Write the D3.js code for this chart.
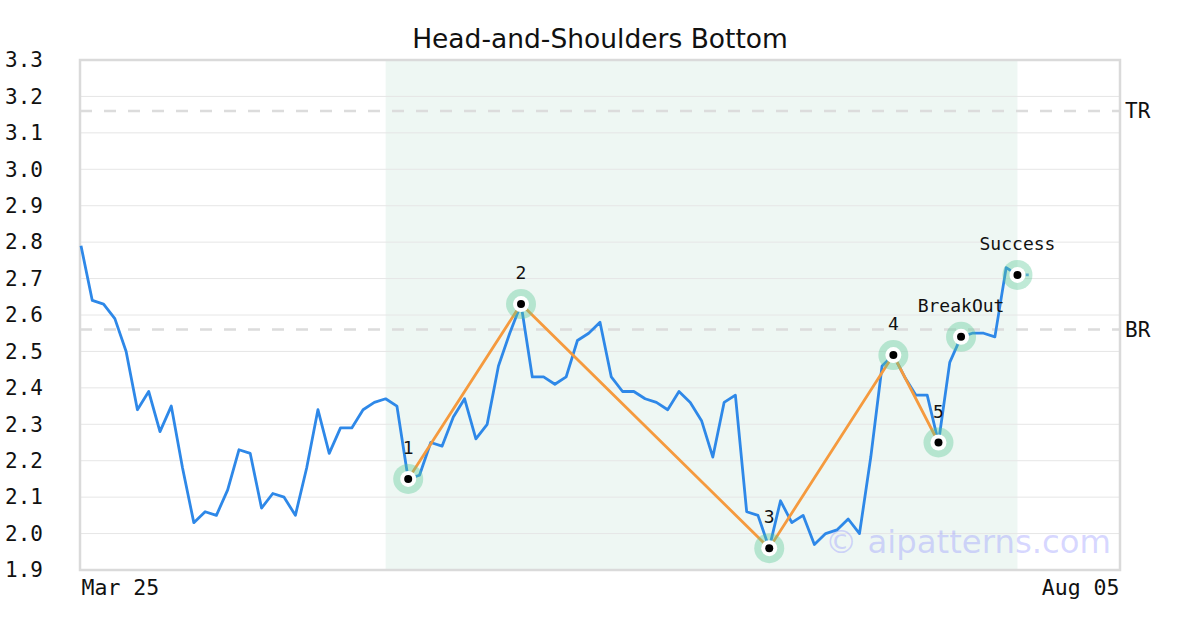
<!DOCTYPE html>
<html>
<head>
<meta charset="utf-8">
<script src="https://cdn.jsdelivr.net/npm/d3@7"></script>
<style>
  html, body { margin: 0; padding: 0; background: #fff; }
  svg { display: block; }
</style>
</head>
<body>
<svg id="chart" width="1200" height="630"></svg>
<script>
// ---- data ----
const title = "Head-and-Shoulders Bottom";
const prices = [
  2.79, 2.64, 2.63, 2.59, 2.50, 2.34, 2.39, 2.28, 2.35, 2.18,
  2.03, 2.06, 2.05, 2.12, 2.23, 2.22, 2.07, 2.11, 2.10, 2.05,
  2.18, 2.34, 2.22, 2.29, 2.29, 2.34, 2.36, 2.37, 2.35, 2.15,
  2.16, 2.25, 2.24, 2.32, 2.37, 2.26, 2.30, 2.46, 2.55, 2.63,
  2.43, 2.43, 2.41, 2.43, 2.53, 2.55, 2.58, 2.43, 2.39, 2.39,
  2.37, 2.36, 2.34, 2.39, 2.36, 2.31, 2.21, 2.36, 2.38, 2.06,
  2.05, 1.96, 2.09, 2.03, 2.05, 1.97, 2.00, 2.01, 2.04, 2.00,
  2.21, 2.46, 2.49, 2.43, 2.38, 2.38, 2.25, 2.47, 2.54, 2.55,
  2.55, 2.54, 2.73, 2.71, 2.71
];
const xDomainEnd = 92;
const xTickLabels = ["Mar 25", "Aug 05"];
const yTicks = [1.9, 2.0, 2.1, 2.2, 2.3, 2.4, 2.5, 2.6, 2.7, 2.8, 2.9, 3.0, 3.1, 3.2, 3.3];
const patternIdx = [29, 39, 61, 72, 76];
const patternLabels = ["1", "2", "3", "4", "5"];
const eventIdx = [78, 83];
const eventLabels = ["BreakOut", "Success"];
const shadeRange = [27, 83];
const levelNames = ["TR", "BR"];
const levelValues = [3.16, 2.56];
const watermark = "© aipatterns.com";

// ---- layout ----
const svg = d3.select("#chart");
const L = 80, R = 1120, T = 60, B = 570;
const mono = "'DejaVu Sans Mono', monospace";
const sans = "'DejaVu Sans', sans-serif";

const x = d3.scaleLinear().domain([0, xDomainEnd]).range([L + 1, R - 1]);
const y = d3.scaleLinear().domain([1.9, 3.3]).range([B, T]);

// background shade
svg.append("rect")
  .attr("x", x(shadeRange[0])).attr("y", T)
  .attr("width", x(shadeRange[1]) - x(shadeRange[0])).attr("height", B - T)
  .attr("fill", "#eef7f3");

// grid
svg.append("g").selectAll("line").data(yTicks).join("line")
  .attr("x1", L).attr("x2", R)
  .attr("y1", d => y(d)).attr("y2", d => y(d))
  .attr("stroke", "#e6e6e6").attr("stroke-width", 1);

// level lines
svg.append("g").selectAll("line").data(levelValues).join("line")
  .attr("x1", L).attr("x2", R)
  .attr("y1", d => y(d)).attr("y2", d => y(d))
  .attr("stroke", "#dcdcdc").attr("stroke-width", 2.5)
  .attr("stroke-dasharray", "12,12");
svg.append("g").selectAll("text").data(levelNames).join("text")
  .attr("x", R + 5).attr("y", (d, i) => y(levelValues[i]))
  .attr("dy", "0.35em")
  .attr("font-family", mono).attr("font-size", 21).attr("fill", "#111")
  .text(d => d);

// border
svg.append("rect")
  .attr("x", L).attr("y", T).attr("width", R - L).attr("height", B - T)
  .attr("fill", "none").attr("stroke", "#dadada").attr("stroke-width", 2.5);

// y axis labels
const yAxis = d3.axisLeft(y).tickValues(yTicks).tickFormat(d3.format(".1f")).tickSize(0);
const gy = svg.append("g").attr("transform", `translate(5,0)`).call(yAxis);
gy.select(".domain").remove();
gy.selectAll("text")
  .attr("x", 0).attr("text-anchor", "start")
  .attr("font-family", mono).attr("font-size", 21).attr("fill", "#111");

// x labels
const xAxis = d3.axisBottom(x).tickValues([0, xDomainEnd])
  .tickFormat((d, i) => xTickLabels[i]).tickSize(0);
const gx = svg.append("g").attr("transform", `translate(0,${B + 7})`).call(xAxis);
gx.select(".domain").remove();
gx.selectAll("text")
  .attr("font-family", mono).attr("font-size", 21.5).attr("fill", "#111")
  .attr("text-anchor", (d, i) => i === 0 ? "start" : "end")
  .attr("dy", "0.71em");

// watermark
svg.append("text")
  .attr("x", R - 9).attr("y", 553)
  .attr("text-anchor", "end")
  .attr("font-family", sans).attr("font-size", 32.3)
  .attr("fill", "rgba(140,140,255,0.35)")
  .text(watermark);

// price line
const line = d3.line().x((d, i) => x(i)).y(d => y(d));
const mainPts = prices.slice(0, prices.length - 1);
svg.append("path")
  .datum(mainPts)
  .attr("d", line)
  .attr("fill", "none").attr("stroke", "#2e88e8").attr("stroke-width", 2.8)
  .attr("stroke-linejoin", "round");
const tail = prices.slice(prices.length - 2);
svg.append("path")
  .datum(tail)
  .attr("d", d3.line().x((d, i) => x(prices.length - 2 + i)).y(d => y(d)))
  .attr("fill", "none").attr("stroke", "#2e88e8").attr("stroke-width", 2.8)
  .attr("stroke-dasharray", "4,4").attr("opacity", 0.8);

// pattern line
svg.append("path")
  .datum(patternIdx)
  .attr("d", d3.line().x(d => x(d)).y(d => y(prices[d])))
  .attr("fill", "none").attr("stroke", "#f59a3e").attr("stroke-width", 2.8);

// markers
const markerIdx = patternIdx.concat(eventIdx);
const markerLabels = patternLabels.concat(eventLabels);
const mg = svg.append("g").selectAll("g").data(markerIdx).join("g")
  .attr("transform", d => `translate(${x(d)},${y(prices[d])})`);
mg.append("circle").attr("r", 15).attr("fill", "rgba(90,200,150,0.38)");
mg.append("circle").attr("r", 8).attr("fill", "#fff");
mg.append("circle").attr("r", 4).attr("fill", "#000");
mg.append("text")
  .attr("y", -31).attr("dy", "0.35em")
  .attr("text-anchor", "middle")
  .attr("font-family", mono).attr("font-size", 18).attr("fill", "#111")
  .text((d, i) => markerLabels[i]);

// title
svg.append("text")
  .attr("x", 600).attr("y", 48)
  .attr("text-anchor", "middle")
  .attr("font-family", sans).attr("font-size", 26.5).attr("fill", "#111")
  .text(title);
</script>
</body>
</html>
